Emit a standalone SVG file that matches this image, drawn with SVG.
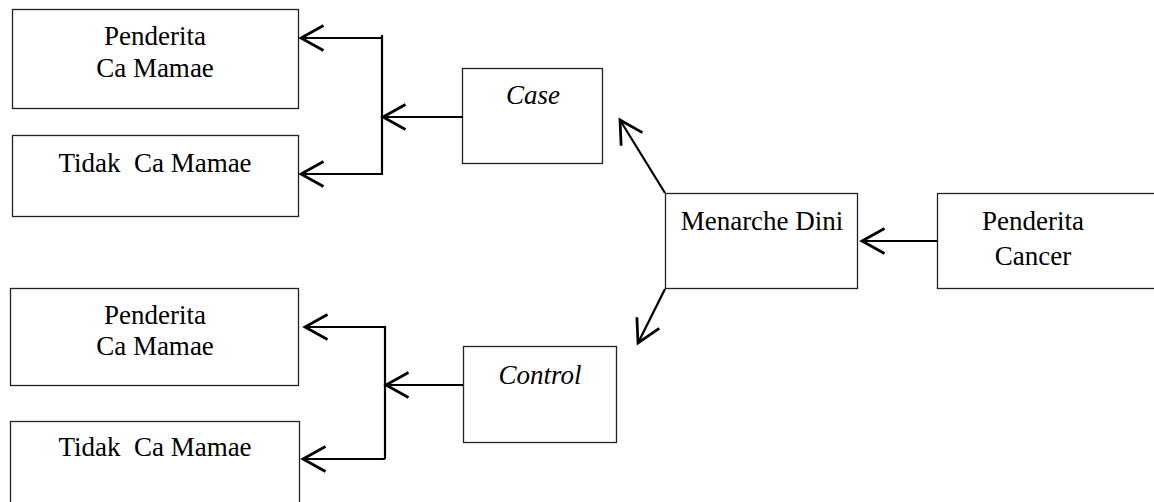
<svg xmlns="http://www.w3.org/2000/svg" width="1154" height="502" viewBox="0 0 1154 502">
<defs>
<marker id="ah" markerUnits="userSpaceOnUse" markerWidth="30" markerHeight="30" viewBox="-20 -12 24 24" refX="0" refY="0" orient="auto">
<path d="M -18 -10 L 0 0 L -18 10" fill="none" stroke="#000" stroke-width="2.2"/>
</marker>
</defs>
<style>
.box{fill:#fff;stroke:#222;stroke-width:1.3}
.t{font-family:"Liberation Serif","Times New Roman",serif;font-size:27px;fill:#000;text-anchor:middle}
.i{font-style:italic}
.c{fill:none;stroke:#000;stroke-width:2.2}
.ca{fill:none;stroke:#000;stroke-width:2.2;marker-end:url(#ah)}
</style>
<g id="n-pcm1"><rect class="box" x="12.5" y="9.5" width="286" height="99"/><text class="t" x="155" y="45">Penderita</text><text class="t" x="155" y="77">Ca Mamae</text></g>
<g id="n-tcm1"><rect class="box" x="12.5" y="135.5" width="286" height="81"/><text class="t" x="155" y="172" xml:space="preserve">Tidak  Ca Mamae</text></g>
<g id="n-case"><rect class="box" x="462.5" y="68.5" width="140" height="95"/><text class="t i" x="533" y="104">Case</text></g>
<g id="n-menarche"><rect class="box" x="665.5" y="193.5" width="192" height="95"/><text class="t" x="762" y="230">Menarche Dini</text></g>
<g id="n-cancer"><rect class="box" x="937.5" y="193.5" width="230" height="95"/><text class="t" x="1033" y="230">Penderita</text><text class="t" x="1033" y="265">Cancer</text></g>
<g id="n-control"><rect class="box" x="463.5" y="346.5" width="153" height="96"/><text class="t i" x="540" y="384">Control</text></g>
<g id="n-pcm2"><rect class="box" x="10.5" y="288.5" width="288" height="97"/><text class="t" x="155" y="324">Penderita</text><text class="t" x="155" y="355">Ca Mamae</text></g>
<g id="n-tcm2"><rect class="box" x="10.5" y="421.5" width="289" height="90"/><text class="t" x="155" y="456" xml:space="preserve">Tidak  Ca Mamae</text></g>
<g id="connectors">
<line class="ca" x1="937" y1="241" x2="862" y2="241"/>
<line class="ca" x1="665" y1="193" x2="620" y2="120"/>
<line class="ca" x1="665" y1="289" x2="638" y2="343"/>
<line class="c" x1="382" y1="35" x2="382" y2="175"/>
<line class="ca" x1="463" y1="117" x2="383" y2="117"/>
<line class="ca" x1="382" y1="38" x2="301" y2="38"/>
<line class="ca" x1="382" y1="174" x2="301" y2="174"/>
<line class="c" x1="385" y1="326" x2="385" y2="459"/>
<line class="ca" x1="463" y1="385" x2="386" y2="385"/>
<line class="ca" x1="385" y1="327" x2="305" y2="327"/>
<line class="ca" x1="385" y1="459" x2="303" y2="459"/>
</g>
</svg>
